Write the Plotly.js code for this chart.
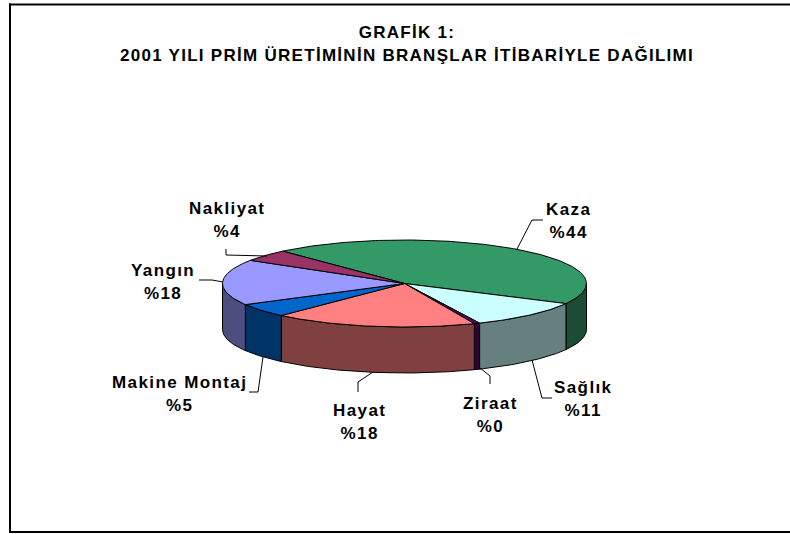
<!DOCTYPE html>
<html>
<head>
<meta charset="utf-8">
<script src="https://cdn.plot.ly/plotly-3.0.1.min.js"></script>
<style>
html,body{margin:0;padding:0;background:#fff;}
#chart{width:790px;height:534px;}
.gtitle{letter-spacing:1.28px;}
.annotation-text{letter-spacing:1.4px;}
</style>
</head>
<body>
<div id="chart"></div>
<script>
// ---- data ----
const categories = ["Kaza","Sağlık","Ziraat","Hayat","Makine Montaj","Yangın","Nakliyat"];
const shares = [44.3,10.6,0.5,18.1,5.1,17.0,4.4];
const shareLabels = ["%44","%11","%0","%18","%5","%18","%4"];
const topColors = ["#339966","#CCFFFF","#660066","#FF8080","#0066CC","#9999FF","#993366"];
const sideColors = ["#1A4D33","#668080","#330033","#804040","#003366","#4D4D80","#4D1A33"];

// ---- layout constants (in chart pixels) ----
const W = 790, H = 534;
const pie = {cx:404.5, cy:283.5, rx:182, ry:43.5, depth:46, start:318};
const labelPos = [[568,221],[583,399],[490,415],[359,422],[179,394],[163,282],[227,220]];
const leaders = [
  [[517,249],[532,220],[543,220]],
  [[532,360],[542,398],[552,398]],
  [[480,368],[490,376],[490,384]],
  [[373,372],[358,382],[358,392]],
  [[263,357],[258,392],[249,392]],
  [[223,282],[212,280],[199,280]],
  [[267,256],[226,255],[226,249]]
];

const rad = d => d*Math.PI/180;
const px = a => pie.cx + pie.rx*Math.sin(rad(a));
const py = (a,dz=0) => pie.cy - pie.ry*Math.cos(rad(a)) + dz;
function arc(a0,a1){
  const out=[]; const n=Math.max(2,Math.ceil(Math.abs(a1-a0)/1));
  for(let i=0;i<=n;i++) out.push(a0+(a1-a0)*i/n);
  return out;
}

const total = shares.reduce((s,v)=>s+v,0);
const spans = []; let acc = pie.start;
shares.forEach(v=>{const e=acc+v/total*360; spans.push([acc,e]); acc=e;});

const traces = [];
const base = {type:"scatter",mode:"lines",fill:"toself",hoverinfo:"skip",showlegend:false,
              line:{color:"#000",width:1}};

// outer walls: only the front half of the cylinder (90..270 deg) is visible
spans.forEach(([a0,a1],i)=>{
  for(const k of [0,360]){
    const lo=Math.max(a0,90+k), hi=Math.min(a1,270+k);
    if(hi<=lo) continue;
    const A=arc(lo,hi), B=A.slice().reverse();
    traces.push(Object.assign({},base,{name:categories[i]+" wall",fillcolor:sideColors[i],
      x:A.map(px).concat(B.map(px),[px(lo)]),
      y:A.map(a=>py(a)).concat(B.map(a=>py(a,pie.depth)),[py(lo)])}));
  }
});
// top faces
spans.forEach(([a0,a1],i)=>{
  const A=arc(a0,a1);
  traces.push(Object.assign({},base,{name:categories[i],fillcolor:topColors[i],
    x:[pie.cx].concat(A.map(px),[pie.cx]),
    y:[pie.cy].concat(A.map(a=>py(a)),[pie.cy])}));
});
// leader lines
leaders.forEach((l,i)=>{
  traces.push({type:"scatter",mode:"lines",hoverinfo:"skip",showlegend:false,
    name:categories[i]+" leader",line:{color:"#000",width:1},
    x:l.map(p=>p[0]),y:l.map(p=>p[1])});
});

const inner = t => '<span style="font-size:17px">'+t+'</span>';
const annotations = categories.map((c,i)=>({
  xref:"x",yref:"y",x:labelPos[i][0],y:labelPos[i][1],xanchor:"center",yanchor:"middle",
  showarrow:false,align:"center",
  font:{family:"Liberation Sans, Arial, sans-serif",size:17.7,color:"#000",weight:700},
  text:"<b>"+inner(c)+"<br>"+inner(shareLabels[i])+"</b>"
}));

const layout = {
  width:W,height:H,margin:{l:0,r:0,t:0,b:0},paper_bgcolor:"#fff",plot_bgcolor:"#fff",showlegend:false,
  title:{text:"<b>"+inner("GRAFİK 1:")+"<br>"+inner("2001 YILI PRİM ÜRETİMİNİN BRANŞLAR İTİBARİYLE DAĞILIMI")+"</b>",
    x:407/W,xanchor:"center",xref:"paper",y:1-38/H,yanchor:"middle",yref:"paper",
    font:{family:"Liberation Sans, Arial, sans-serif",size:17.7,color:"#000"}},
  xaxis:{range:[0,W],visible:false,fixedrange:true},
  yaxis:{range:[H,0],visible:false,fixedrange:true},
  annotations:annotations,
  shapes:[
    {type:"line",xref:"x",yref:"y",x0:10,y0:3.5,x1:10,y1:533,line:{color:"#000",width:2}},
    {type:"line",xref:"x",yref:"y",x0:9,y0:4.5,x1:790,y1:4.5,line:{color:"#000",width:2}},
    {type:"line",xref:"x",yref:"y",x0:9,y0:532,x1:790,y1:532,line:{color:"#000",width:2}}
  ]
};
Plotly.newPlot("chart",traces,layout,{displayModeBar:false,staticPlot:true});
</script>
</body>
</html>
